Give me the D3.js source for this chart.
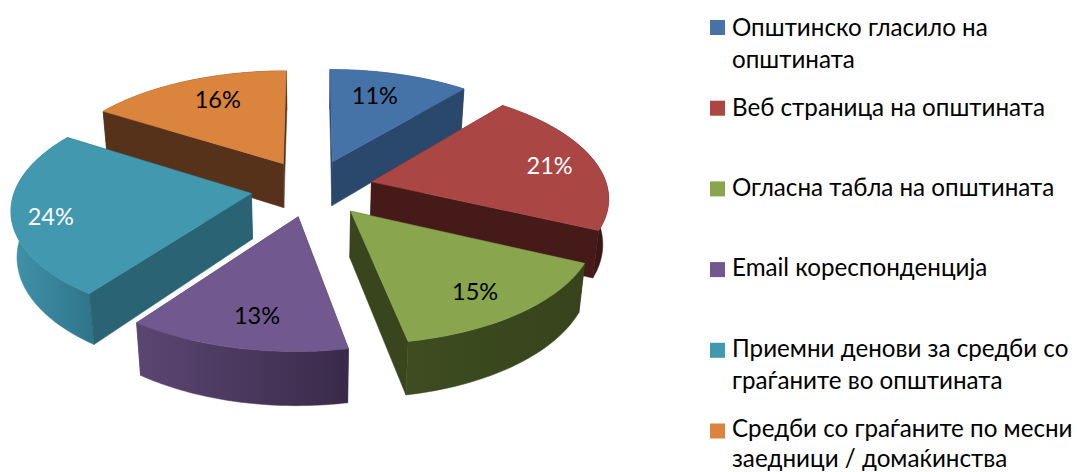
<!DOCTYPE html>
<html><head><meta charset="utf-8">
<script src="https://cdn.jsdelivr.net/npm/d3@7"></script>
<style>html,body{margin:0;padding:0;background:#fff}svg{display:block}text{font-family:Lato,"Noto Sans",sans-serif}</style>
</head><body><div id="c"></div>
<script>
const categories=[["Општинско гласило на","општината"],["Веб страница на општината"],["Огласна табла на општината"],["Email кореспонденција"],["Приемни денови за средби со","граѓаните во општината"],["Средби со граѓаните по месни","заедници / домаќинства"]];
const values=[11,21,15,13,24,16];
const topColors=["#4572A7","#AA4643","#89A54E","#71588F","#4198AF","#DB843D"];
const wallColors=["#2a486b","#451a18","#38451d","#4d3a62","#2a6373","#57321a"];
const rimLeft=["#355a85","#4a1d1b","#3e4d20","#5b4673","#3f93aa","#6b3f20"];
const rimRight=["#2a486b","#3a1513","#36431c","#3a2a49","#2f7489","#57321a"];
const labelColors=["#000","#fff","#000","#000","#fff","#000"];
const paintOrder=[5,0,1,4,3,2];

const W=1077,H=472;
const cx=312,cy=188,R=236,tilt=0.466,persp=0.125,depth=45.3,depthCurve=0.174,depthPersp=0.02,explode=0.26;
const labelShiftX=[-10,9,-1,5,-19,10],labelShiftY=[2,2,5,3,7,0];
const svg=d3.select("#c").append("svg").attr("width",W).attr("height",H);
const defs=svg.append("defs");
const project=(x,y,z)=>{const w=1+persp*y+depthPersp*z;return [cx+R*x/w,cy-R*tilt*y/w+depth*z/(1+depthCurve*y)];};
const pie=d3.pie().sort(null)(values);
const line=d3.line();
const slices=pie.map((p,i)=>{
  const mid=(p.startAngle+p.endAngle)/2,ox=explode*Math.sin(mid),oy=explode*Math.cos(mid);
  const arc=d3.range(0,41).map(k=>p.startAngle+(p.endAngle-p.startAngle)*k/40);
  const rim=arc.map(a=>[ox+Math.sin(a),oy+Math.cos(a)]);
  return {i,mid,ox,oy,rim};
});
const pts=(arr,z)=>arr.map(q=>project(q[0],q[1],z));
paintOrder.forEach(i=>{
  const s=slices[i],g=svg.append("g");
  const apex=[s.ox,s.oy],first=s.rim[0],last=s.rim[s.rim.length-1];
  const grad=defs.append("linearGradient").attr("id","rim"+i);
  grad.append("stop").attr("offset",0).attr("stop-color",rimLeft[i]);
  grad.append("stop").attr("offset",1).attr("stop-color",rimRight[i]);
  const faces=[
    {d:[apex,first],y:(apex[1]+first[1])/2,fill:wallColors[i]},
    {d:[apex,last],y:(apex[1]+last[1])/2,fill:wallColors[i]},
    {d:s.rim,y:d3.mean(s.rim,q=>q[1]),fill:`url(#rim${i})`}
  ].sort((a,b)=>b.y-a.y);
  faces.forEach(f=>{
    const poly=pts(f.d,0).concat(pts(f.d,1).reverse());
    g.append("path").attr("d",line(poly)+"Z").attr("fill",f.fill).attr("stroke",f.fill).attr("stroke-width",0.5);
  });
  const top=pts([apex,...s.rim],0);
  g.append("path").attr("d",line(top)+"Z").attr("fill",topColors[i]).attr("stroke",topColors[i]).attr("stroke-width",0.5);
});
slices.forEach(s=>{
  const r=0.76,q=project(s.ox+r*Math.sin(s.mid),s.oy+r*Math.cos(s.mid),0);
  svg.append("text").attr("x",q[0]+labelShiftX[s.i]).attr("y",q[1]+labelShiftY[s.i]).attr("dy","0.35em").attr("text-anchor","middle")
    .attr("font-size",23.5).attr("fill",labelColors[s.i]).text(values[s.i]+"%");
});
const fontSize=24.2;
const swatchY=d3.scaleLinear().domain([0,5]).range([27.5,431]);
const baselineY=d3.scaleLinear().domain([0,5]).range([35.5,437]);
categories.forEach((lines,i)=>{
  svg.append("rect").attr("x",710).attr("y",swatchY(i)-7.5).attr("width",15).attr("height",15).attr("fill",topColors[i]);
  lines.forEach((t,j)=>svg.append("text").attr("x",732).attr("y",Math.min(baselineY(i)+32.5*j,H-0.22*fontSize))
    .attr("font-size",fontSize).attr("fill","#000").text(t));
});
</script></body></html>
